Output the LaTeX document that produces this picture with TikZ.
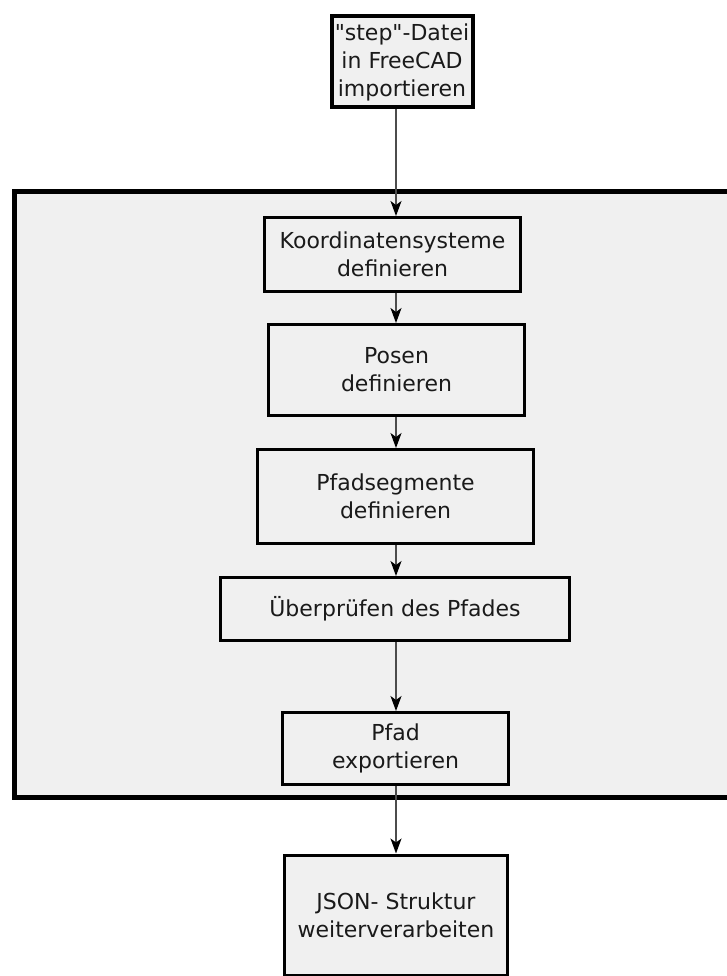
\documentclass[tikz,border=0pt]{standalone}
\usepackage{fontspec}
\setmainfont{DejaVu Sans}[Ligatures=TeXOff]
\usetikzlibrary{arrows.meta}
\definecolor{boxgray}{HTML}{F0F0F0}
\definecolor{textgray}{HTML}{1A1A1A}

\begin{document}
\begin{tikzpicture}[x=1pt,y=-1pt,>={Stealth[length=15pt,width=11pt,inset=4pt,color=black]},
  block/.style={draw,line width=3pt,fill=boxgray,align=center,inner sep=0pt,
    font=\fontsize{22}{28}\selectfont,text=textgray},
  flow/.style={->,draw=black!70,line width=1.3pt}]
\useasboundingbox (0,0) rectangle (726,976);
\filldraw[fill=boxgray,line width=5pt] (14.5,192) rectangle (745,797);
\coordinate (axis) at (396,0);
\node (import)   at (402,62)    [block,line width=4pt,minimum width=141pt,minimum height=91pt] {"step"-Datei\\in FreeCAD\\importieren};
\node (koord)    at (392.5,254.5) [block,minimum width=256pt,minimum height=74pt] {Koordinatensysteme\\definieren};
\node (posen)    at (396.5,370) [block,minimum width=256pt,minimum height=91pt] {Posen\\definieren};
\node (segmente) at (395.5,496.5) [block,minimum width=276pt,minimum height=94pt] {Pfadsegmente\\definieren};
\node (pruefen)  at (395,609)   [block,minimum width=349pt,minimum height=63pt] {Überprüfen des Pfades};
\node (export)   at (395.5,748.5) [block,minimum width=226pt,minimum height=72pt] {Pfad\\exportieren};
\node (json)     at (396,915)   [block,minimum width=223pt,minimum height=120pt] {JSON- Struktur\\weiterverarbeiten};
\draw [flow] (import.south -| axis) -- (koord.north -| axis);
\draw [flow] (koord.south -| axis) -- (posen.north -| axis);
\draw [flow] (posen.south -| axis) -- (segmente.north -| axis);
\draw [flow] (segmente.south -| axis) -- (pruefen.north -| axis);
\draw [flow] (pruefen.south -| axis) -- (export.north -| axis);
\draw [flow] (export.south -| axis) -- (json.north -| axis);
\end{tikzpicture}
\end{document}
